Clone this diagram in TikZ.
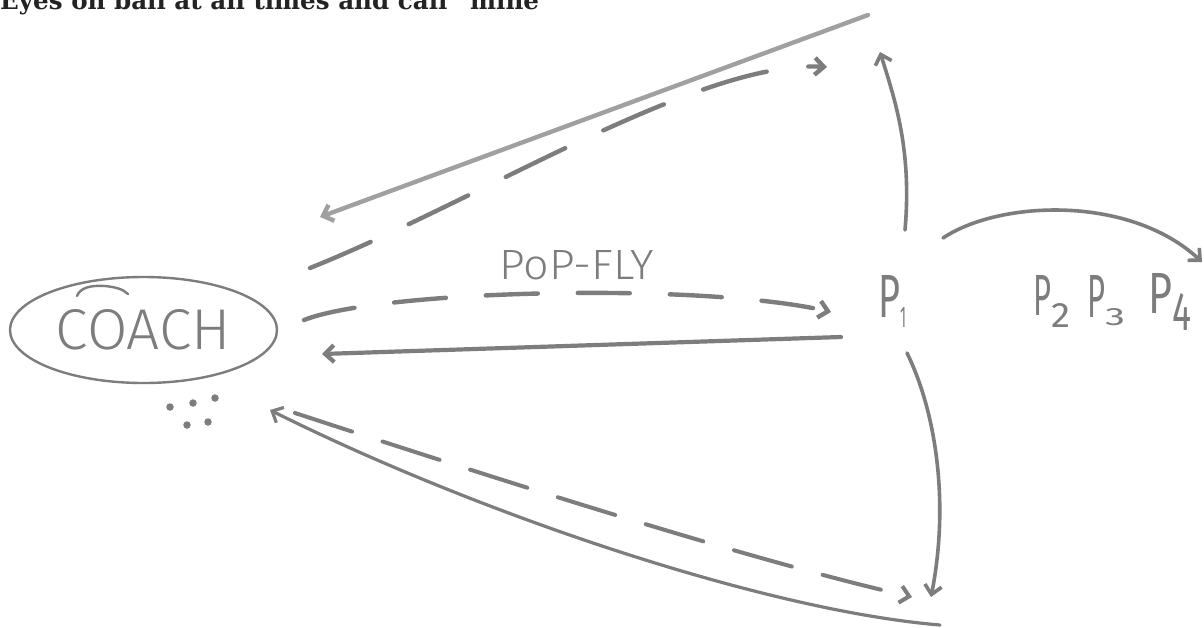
\documentclass[tikz,border=0pt]{standalone}
\usepackage{fontspec}
\setmainfont{Liberation Sans}
\newfontfamily\handfont{Fira Sans Light}
\newfontfamily\handbold{Fira Sans}
\newfontfamily\titlefont{DejaVu Serif}
\usetikzlibrary{arrows.meta,shapes.geometric}
\definecolor{ink}{RGB}{125,125,125}
\definecolor{inklight}{RGB}{160,160,160}
\definecolor{titleink}{RGB}{35,35,35}
% P with subscript: Pw, Ph, kern, digit, dw, dh, drop
\newcommand{\hpsub}[7]{{\handbold\resizebox{#1pt}{#2pt}{P}\kern#3pt\raisebox{-#7pt}{\resizebox{#5pt}{#6pt}{#4}}}}
\begin{document}
\begin{tikzpicture}[x=1pt,y=-1pt,
  stroke/.style={draw=ink, line width=3.6pt, line cap=round, line join=round},
  thinstroke/.style={stroke, line width=2.4pt},
  dashstroke/.style={stroke, line width=4.4pt},
  barb/.style={-{Straight Barb[length=9pt,width=17pt]}},
  hand/.style={text=ink, inner sep=0pt, font=\handfont},
  dot/.style={circle, fill=ink, inner sep=0pt, minimum size=7.5pt}]
\useasboundingbox (0,0) rectangle (1204,627);
\fill[white] (0,0) rectangle (1204,627);

% title (cut at the top edge)
\node[anchor=base west, inner sep=0pt, text=titleink] (title) at (0,9)
  {\resizebox{553pt}{!}{\titlefont\bfseries Eyes on ball at all times and call “mine”}};

% coach
\node[hand, draw=ink, line width=2.4pt, ellipse, minimum width=267pt, minimum height=106pt] (coach) at (143.5,330)
  {\resizebox{175pt}{40pt}{COACH}};
\draw[thinstroke] (77,296) .. controls (80,288) and (90,285) .. (105,286) .. controls (115,287) and (123,289) .. (128,294);
\node[dot] (d1) at (170,407) {};
\node[dot] (d2) at (193,403) {};
\node[dot] (d3) at (215,398) {};
\node[dot] (d4) at (187,425) {};
\node[dot] (d5) at (208,422) {};

% players
\node[hand, anchor=base west] (p1) at (878,317) {\hpsub{22}{42}{0}{1}{6}{20}{10}};
\node[hand, anchor=base west] (p2) at (1033,315) {\hpsub{18}{40}{0}{2}{19}{24}{12}};
\node[hand, anchor=base west] (p3) at (1087,317) {\hpsub{18}{42}{0}{3}{20}{17}{8}};
\node[hand, anchor=base west] (p4) at (1148,313) {\hpsub{24}{40}{0}{4}{19}{37}{17}};
\node[hand, anchor=base west] (popfly) at (499,279) {\resizebox{155pt}{29pt}{PoP-FLY}};

% connector end points
\coordinate (topR) at (868,15);
\coordinate (topL) at (320,217);
\coordinate (dtS) at (310,268);
\coordinate (dtE) at (827,67);
\coordinate (upS) at (905,230);
\coordinate (upE) at (880,52);
\coordinate (pfS) at (304,320);
\coordinate (pfE) at (831,312);
\coordinate (midS) at (841,337);
\coordinate (midE) at (322,354);
\coordinate (dnS) at (907,353);
\coordinate (dnE) at (931,597);
\coordinate (botR) at (940,625);
\coordinate (botL) at (270,410);
\coordinate (dbS) at (295,413);
\coordinate (dbE) at (912,597);
\coordinate (arcS) at (943,238);
\coordinate (arcE) at (1202,262);

% long solid line back to coach (top)
\draw[stroke, draw=inklight, line width=4.4pt, barb] (topR) -- (topL);
% dashed curve up
\draw[dashstroke, dash pattern=on 66pt off 42pt, barb] (dtS) .. controls (480,200) and (700,60) .. (dtE);
% P1 upward
\draw[stroke, barb] (upS) .. controls (912,150) and (895,100) .. (upE);
% pop-fly dashed
\draw[dashstroke, dash pattern=on 52pt off 40pt, barb] (pfS) .. controls (380,290) and (700,282) .. (pfE);
% middle solid back to coach
\draw[stroke, line width=4.2pt, barb] (midS) -- (midE);
% P1 downward
\draw[stroke, barb] (dnS) .. controls (935,410) and (950,500) .. (dnE);
% long solid bottom back to coach
\draw[stroke, line width=3.2pt, barb] (botR) .. controls (760,610) and (470,510) .. (botL);
% dashed bottom
\draw[dashstroke, line width=4pt, dash pattern=on 60pt off 32pt, barb] (dbS) .. controls (500,480) and (750,560) .. (dbE);
% P1 to P2 P3 P4
\draw[stroke, barb] (arcS) .. controls (1000,200) and (1130,195) .. (arcE);
\end{tikzpicture}
\end{document}
